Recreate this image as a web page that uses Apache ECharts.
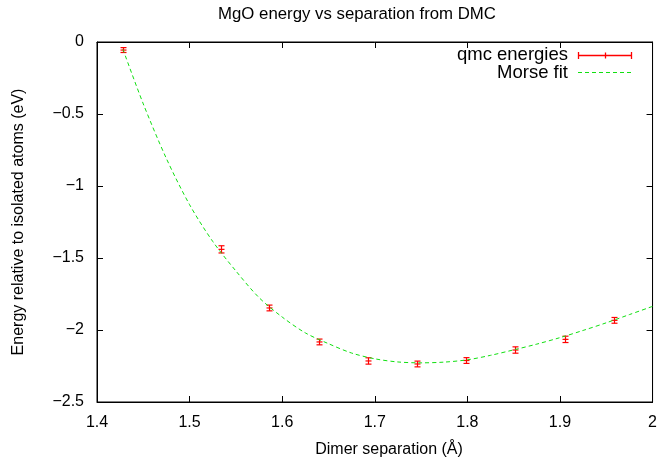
<!DOCTYPE html>
<html>
<head>
<meta charset="utf-8">
<script src="https://cdn.jsdelivr.net/npm/echarts@6/dist/echarts.min.js"></script>
<style>
html,body{margin:0;padding:0;background:#fff;}
#chart{width:660px;height:465px;}
</style>
</head>
<body>
<div id="chart"></div>
<script>
const sepX      = [1.428, 1.534, 1.586, 1.640, 1.693, 1.746, 1.799, 1.851, 1.905, 1.958];
const energy    = [-0.056, -1.440, -1.847, -2.083, -2.215, -2.236, -2.212, -2.139, -2.065, -1.933];
const energyErr = [0.017, 0.025, 0.020, 0.020, 0.022, 0.020, 0.020, 0.022, 0.022, 0.020];

// Morse fit curve
const fitX = [1.428, 1.45, 1.475, 1.50, 1.525, 1.55, 1.575, 1.60, 1.625, 1.65, 1.675, 1.70, 1.725, 1.75, 1.775, 1.80, 1.825, 1.85, 1.875, 1.90, 1.925, 1.95, 1.975, 2.0];
const fitY = [-0.05, -0.43, -0.81, -1.13, -1.385, -1.59, -1.775, -1.91, -2.02, -2.095, -2.16, -2.20, -2.222, -2.228, -2.223, -2.207, -2.176, -2.138, -2.098, -2.053, -2.003, -1.95, -1.893, -1.836];

// Tick labels
const xTickLabels = ['1.4', '1.5', '1.6', '1.7', '1.8', '1.9', '2'];
const yTickLabels = ['\u22122.5', '\u22122', '\u22121.5', '\u22121', '\u22120.5', '0'];

const titleText = 'MgO energy vs separation from DMC';
const xName = 'Dimer separation (\u00C5)';
const yName = 'Energy relative to isolated atoms (eV)';
const seriesNames = ['qmc energies', 'Morse fit'];

const FONT = 'Liberation Sans, Arial, Helvetica, sans-serif';
const RED = '#ff0000';
const GREEN = '#11e011';

const chart = echarts.init(document.getElementById('chart'), null, {renderer: 'canvas'});

const axisCommon = {
  axisLine: {show: true, onZero: false, lineStyle: {color: '#000', width: 1}},
  axisTick: {show: true, inside: true, length: 6, lineStyle: {color: '#000', width: 1}},
  splitLine: {show: false}
};

const option = {
  animation: false,
  backgroundColor: '#fff',
  grid: {left: 97, right: 6, top: 42, bottom: 63, show: true, borderColor: '#000', borderWidth: 1, containLabel: false},
  graphic: [
    {type: 'text', style: {text: titleText, x: 357, y: 14, align: 'center', verticalAlign: 'middle', font: '16.8px ' + FONT, fill: '#000'}},
    {type: 'text', style: {text: xName, x: 389, y: 450, align: 'center', verticalAlign: 'middle', font: '16px ' + FONT, fill: '#000'}},
    // legend
    {type: 'text', style: {text: seriesNames[0], x: 568, y: 55, align: 'right', verticalAlign: 'middle', font: '18.5px ' + FONT, fill: '#000'}},
    {type: 'text', style: {text: seriesNames[1], x: 568, y: 73, align: 'right', verticalAlign: 'middle', font: '18.5px ' + FONT, fill: '#000'}},
    {type: 'line', shape: {x1: 578, y1: 55.5, x2: 632, y2: 55.5}, style: {stroke: RED, lineWidth: 1.3}},
    {type: 'line', shape: {x1: 578.5, y1: 52, x2: 578.5, y2: 59}, style: {stroke: RED, lineWidth: 1.3}},
    {type: 'line', shape: {x1: 631.5, y1: 52, x2: 631.5, y2: 59}, style: {stroke: RED, lineWidth: 1.3}},
    {type: 'line', shape: {x1: 605.5, y1: 52.5, x2: 605.5, y2: 58.5}, style: {stroke: RED, lineWidth: 1.3}},
    {type: 'line', shape: {x1: 578, y1: 72.5, x2: 632, y2: 72.5}, style: {stroke: GREEN, lineWidth: 1.2, lineDash: [4, 3]}}
  ],
  xAxis: [
    Object.assign({}, axisCommon, {
      type: 'value', min: 1.4, max: 2.0, interval: 0.1, position: 'bottom',
      axisLabel: {show: true, margin: 13, fontSize: 16, fontFamily: FONT, color: '#000',
        formatter: (v) => xTickLabels[Math.round((v - 1.4) / 0.1)]}
    }),
    Object.assign({}, axisCommon, {
      type: 'value', min: 1.4, max: 2.0, interval: 0.1, position: 'top',
      axisLabel: {show: false}
    })
  ],
  yAxis: [
    Object.assign({}, axisCommon, {
      type: 'value', min: -2.5, max: 0, interval: 0.5, position: 'left',
      name: yName, nameLocation: 'middle', nameGap: 70, nameRotate: 90,
      nameTextStyle: {fontSize: 16, fontFamily: FONT, color: '#000'},
      axisLabel: {show: true, margin: 13, fontSize: 16, fontFamily: FONT, color: '#000',
        formatter: (v) => yTickLabels[Math.round((v + 2.5) / 0.5)]}
    }),
    Object.assign({}, axisCommon, {
      type: 'value', min: -2.5, max: 0, interval: 0.5, position: 'right',
      axisLabel: {show: false}
    })
  ],
  series: [
    {
      name: seriesNames[0],
      type: 'custom',
      xAxisIndex: 0, yAxisIndex: 0,
      z: 2,
      data: sepX.map((x, i) => [x, energy[i], energyErr[i]]),
      renderItem: function (params, api) {
        const x = api.value(0), y = api.value(1), e = api.value(2);
        const c = api.coord([x, y]);
        const t = api.coord([x, y + e]);
        const b = api.coord([x, y - e]);
        const cx = Math.round(c[0]) + 0.5;
        const w = 3;
        const st = {stroke: RED, lineWidth: 1.2, fill: null};
        return {
          type: 'group',
          children: [
            {type: 'line', shape: {x1: cx, y1: t[1], x2: cx, y2: b[1]}, style: st},
            {type: 'line', shape: {x1: cx - w, y1: t[1], x2: cx + w, y2: t[1]}, style: st},
            {type: 'line', shape: {x1: cx - w, y1: b[1], x2: cx + w, y2: b[1]}, style: st},
            {type: 'line', shape: {x1: cx - w, y1: c[1], x2: cx + w, y2: c[1]}, style: st}
          ]
        };
      }
    },
    {
      name: seriesNames[1],
      type: 'line',
      xAxisIndex: 0, yAxisIndex: 0,
      z: 3,
      data: fitX.map((x, i) => [x, fitY[i]]),
      showSymbol: false,
      symbol: 'none',
      smooth: 0.3,
      clip: true,
      lineStyle: {color: GREEN, width: 1, type: [4, 3]}
    }
  ]
};

chart.setOption(option);
</script>
</body>
</html>
